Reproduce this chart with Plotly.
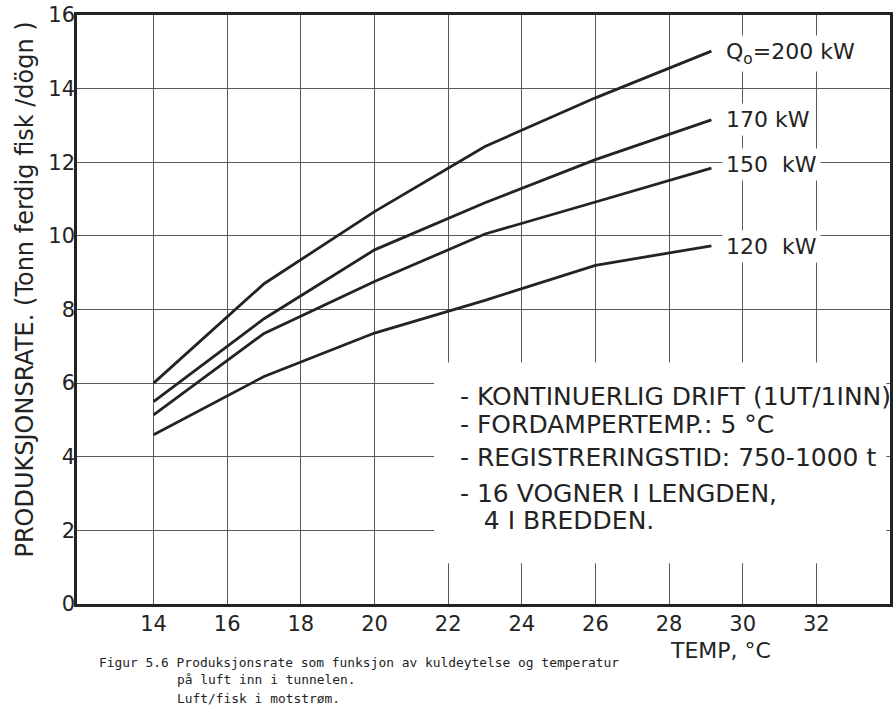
import plotly.graph_objects as go

# ---- data ----
temp = [14, 17, 20, 23, 26, 29.15]
q200 = [6.0, 8.7, 10.66, 12.43, 13.75, 15.02]
q170 = [5.5, 7.75, 9.62, 10.9, 12.07, 13.15]
q150 = [5.14, 7.35, 8.76, 10.05, 10.92, 11.84]
q120 = [4.6, 6.18, 7.36, 8.25, 9.2, 9.73]
series = [q200, q170, q150, q120]
curve_labels = ["Q<sub>o</sub>=200 kW", "170 kW", "150  kW", "120  kW"]
label_y = [14.95, 13.15, 11.95, 9.7]

x_ticks = [14, 16, 18, 20, 22, 24, 26, 28, 30, 32]
y_ticks = [0, 2, 4, 6, 8, 10, 12, 14, 16]

notes = [
    "- KONTINUERLIG DRIFT (1UT/1INN)",
    "- FORDAMPERTEMP.: 5 °C",
    "- REGISTRERINGSTID: 750-1000 t",
    "- 16 VOGNER I LENGDEN,",
    "   4 I BREDDEN.",
]
note_y = [5.64, 4.88, 3.99, 3.01, 2.28]

caption = [
    "Figur 5.6 Produksjonsrate som funksjon av kuldeytelse og temperatur",
    "på luft inn i tunnelen.",
    "Luft/fisk i motstrøm.",
]

INK = "#232323"
FONT = "DejaVu Sans"

fig = go.Figure()
for s in series:
    fig.add_trace(go.Scatter(x=temp, y=s, mode="lines",
                             line=dict(color=INK, width=2.8),
                             showlegend=False, hoverinfo="skip"))

W, H = 896, 709
ml, mr, mt, mb = 77, 3, 14, 105
PW, PH = W - ml - mr, H - mt - mb
x0r, x1r = 11.92, 34.0

fig.update_layout(
    width=W, height=H,
    margin=dict(l=ml, r=mr, t=mt, b=mb),
    paper_bgcolor="white", plot_bgcolor="white",
    font=dict(family=FONT, color=INK),
    xaxis=dict(range=[x0r, x1r], tickvals=x_ticks, showgrid=True,
               gridcolor="#5a5a5a", gridwidth=1.3, zeroline=False,
               showline=True, linecolor=INK, linewidth=2.5, mirror=True,
               ticks="", ticklabelstandoff=-1,
               tickfont=dict(size=21, family=FONT, color=INK)),
    yaxis=dict(range=[0, 16], tickvals=y_ticks, showgrid=True,
               gridcolor="#5a5a5a", gridwidth=1.3, zeroline=False,
               showline=True, linecolor=INK, linewidth=2.5, mirror=True,
               ticks="outside", ticklen=0, tickcolor="white", ticklabelstandoff=-5,
               tickfont=dict(size=21, family=FONT, color=INK)),
)

# white area behind the notes (grid is interrupted there)
fig.add_shape(type="rect", xref="x", yref="y", x0=21.62, x1=33.9, y0=1.11, y1=6.56,
              fillcolor="white", line=dict(width=0), layer="between")

# curve labels
for txt, yv in zip(curve_labels, label_y):
    fig.add_annotation(x=29.45, y=yv, xref="x", yref="y", text=txt, showarrow=False,
                       xanchor="left", yanchor="middle", bgcolor="white", borderpad=3,
                       font=dict(size=22, family=FONT, color=INK))

# notes
for txt, yv in zip(notes, note_y):
    fig.add_annotation(x=22.28, y=yv, xref="x", yref="y", text=txt, showarrow=False,
                       xanchor="left", yanchor="middle",
                       font=dict(size=25, family=FONT, color=INK))

# axis titles
fig.add_annotation(x=0, y=(604 - 289) / PH, xref="paper", yref="paper",
                   xshift=-52, text="PRODUKSJONSRATE. (Tonn ferdig fisk /dögn )",
                   textangle=-90, showarrow=False, xanchor="center", yanchor="middle",
                   font=dict(size=24, family=FONT, color=INK))
fig.add_annotation(x=29.4, y=0, xref="x", yref="y", yshift=-46,
                   text="TEMP, °C", showarrow=False, xanchor="center", yanchor="middle",
                   font=dict(size=22, family=FONT, color=INK))

# caption (positions in page pixels converted to paper units)
cap_x = [97, 175, 175]
cap_y = [663, 680, 699]
for txt, cx, cy in zip(caption, cap_x, cap_y):
    fig.add_annotation(x=(cx - ml) / PW, y=(604 - cy) / PH, xref="paper", yref="paper",
                       text=txt, showarrow=False, xanchor="left", yanchor="middle",
                       font=dict(size=12.9, family="DejaVu Sans Mono", color=INK))

fig.write_html("out.html")
